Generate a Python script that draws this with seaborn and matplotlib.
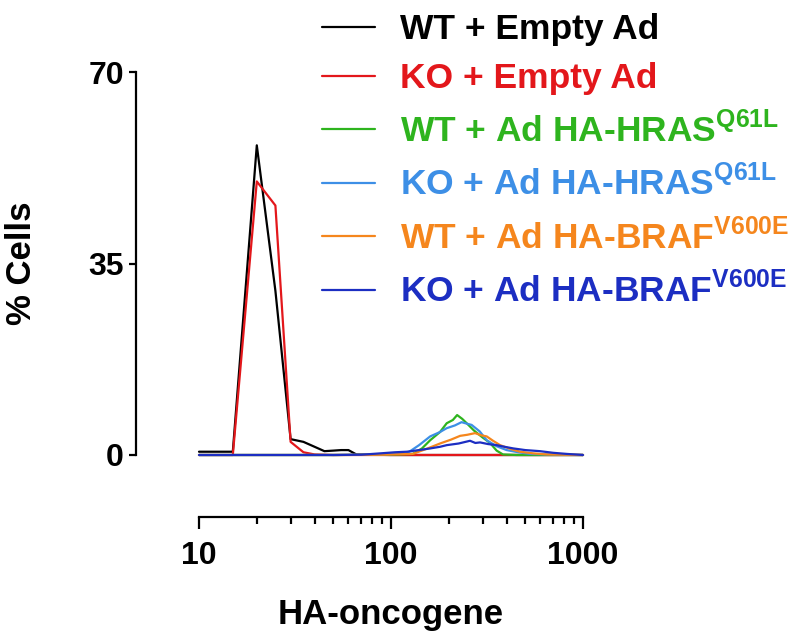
import matplotlib
matplotlib.use("Agg")
import matplotlib.pyplot as plt
from matplotlib.ticker import FixedLocator, LogLocator, NullFormatter
import seaborn as sns
import pandas as pd

# series (x = HA-oncogene intensity, y = % cells)
wt_empty_x = [10, 15, 20, 25, 30, 35, 40, 45, 50, 55, 60, 66, 80, 100, 150, 200, 300, 500, 1000]
wt_empty_y = [0.6, 0.6, 56.6, 30, 2.9, 2.4, 1.5, 0.7, 0.8, 0.9, 0.9, 0.1, 0.05, 0, 0, 0, 0, 0, 0]

ko_empty_x = [10, 15, 20, 25, 30, 35, 40, 50, 100, 200, 300, 500, 1000]
ko_empty_y = [0, 0, 50, 45.6, 2.4, 0.5, 0.1, 0, 0, 0, 0, 0, 0]

wt_hras_x = [10, 50, 90, 110, 130, 145, 160, 180, 195, 210, 221, 235, 248, 270, 300, 328, 355, 383, 450, 600, 1000]
wt_hras_y = [0, 0, 0.05, 0.1, 0.2, 1.2, 2.7, 4.2, 5.8, 6.4, 7.3, 6.6, 5.8, 4.5, 3.2, 2.2, 0.8, 0.1, 0, 0, 0]

ko_hras_x = [10, 50, 90, 121, 140, 160, 180, 195, 215, 233, 250, 263, 290, 315, 355, 400, 460, 530, 650, 800, 1000]
ko_hras_y = [0, 0, 0.1, 0.3, 1.8, 3.4, 4.2, 4.9, 5.4, 6.0, 5.7, 5.5, 4.3, 2.7, 1.6, 0.9, 0.5, 0.2, 0.1, 0.05, 0]

wt_braf_x = [10, 50, 90, 130, 155, 180, 205, 229, 250, 274, 295, 315, 340, 370, 420, 470, 550, 647, 800, 1000]
wt_braf_y = [0, 0, 0.05, 0.2, 1.2, 2.1, 2.8, 3.5, 3.7, 4.0, 3.6, 3.4, 2.6, 1.8, 1.1, 0.6, 0.3, 0.1, 0.05, 0]

ko_braf_x = [10, 50, 70, 88, 105, 121, 140, 160, 180, 195, 225, 258, 275, 291, 320, 355, 390, 434, 500, 597, 700, 822, 1000]
ko_braf_y = [0, 0, 0.05, 0.3, 0.5, 0.6, 0.9, 1.2, 1.5, 1.8, 2.1, 2.6, 2.2, 2.3, 2.0, 1.8, 1.5, 1.2, 0.9, 0.7, 0.4, 0.2, 0]

groups = [
    r"WT + Empty Ad",
    r"KO + Empty Ad",
    r"WT + Ad HA-HRAS$^{\mathbf{Q61L}}$",
    r"KO + Ad HA-HRAS$^{\mathbf{Q61L}}$",
    r"WT + Ad HA-BRAF$^{\mathbf{V600E}}$",
    r"KO + Ad HA-BRAF$^{\mathbf{V600E}}$",
]
colors = ["#000000", "#e3171b", "#2eb41e", "#3d8fe6", "#f5861d", "#1c2ec2"]
xs = [wt_empty_x, ko_empty_x, wt_hras_x, ko_hras_x, wt_braf_x, ko_braf_x]
ys = [wt_empty_y, ko_empty_y, wt_hras_y, ko_hras_y, wt_braf_y, ko_braf_y]

rows = []
for g, x, y in zip(groups, xs, ys):
    for a, b in zip(x, y):
        rows.append({"x": a, "pct": b, "group": g})
df = pd.DataFrame(rows)

sns.set_style("white")
plt.rcParams["font.family"] = ["Liberation Sans", "DejaVu Sans"]
plt.rcParams["font.weight"] = "bold"
plt.rcParams["mathtext.fontset"] = "custom"
plt.rcParams["mathtext.bf"] = "Liberation Sans:bold"
plt.rcParams["mathtext.rm"] = "Liberation Sans:bold"

fig = plt.figure(figsize=(8.03, 6.37), dpi=100)
ax = fig.add_axes([199 / 803, 182 / 637, 384 / 803, 383 / 637])

sns.lineplot(data=df, x="x", y="pct", hue="group", hue_order=groups,
             palette=dict(zip(groups, colors)), estimator=None, sort=False,
             linewidth=1.6, ax=ax)
for ln in ax.lines:
    ln.set_clip_on(False)

ax.set_xscale("log")
ax.set_xlim(10, 1000)
ax.set_ylim(0, 70)
ax.xaxis.set_major_locator(FixedLocator([10, 100, 1000]))
ax.set_xticklabels(["10", "100", "1000"])
ax.xaxis.set_minor_locator(LogLocator(base=10, subs=range(2, 10)))
ax.xaxis.set_minor_formatter(NullFormatter())
ax.set_yticks([0, 35, 70])
ax.set_yticklabels(["0", "35", "70"])

# spines detached from the data area, like the GraphPad original
for s in ["top", "right"]:
    ax.spines[s].set_visible(False)
ax.spines["left"].set_position(("outward", 45))
ax.spines["bottom"].set_position(("outward", 44.6))
for s in ["left", "bottom"]:
    ax.spines[s].set_linewidth(1.6)
    ax.spines[s].set_color("black")

ax.tick_params(axis="both", which="both", bottom=True, left=True, direction="out",
               width=1.6, colors="black")
ax.tick_params(axis="both", which="major", labelsize=23)
ax.tick_params(axis="y", length=5, pad=4)
ax.tick_params(axis="x", which="major", length=8.6, pad=9)
ax.tick_params(axis="x", which="minor", length=5)
for t in ax.get_xticklabels() + ax.get_yticklabels():
    t.set_fontweight("bold")

ax.set_xlabel("HA-oncogene", fontsize=25, fontweight="bold", labelpad=19, color="black")
ax.set_ylabel("% Cells", fontsize=25, fontweight="bold", labelpad=36, color="black")

leg = ax.legend(loc="upper left", bbox_to_anchor=(322 / 803, 1 - 13 / 637),
                bbox_transform=fig.transFigure, frameon=False, fontsize=25.5,
                handlelength=1.5, handletextpad=0.7, labelspacing=0.46,
                borderpad=0, borderaxespad=0)
for t, c in zip(leg.get_texts(), colors):
    t.set_color(c)
    t.set_fontweight("bold")
for h in leg.get_lines():
    h.set_linewidth(1.6)

fig.savefig("out.png", dpi=100)
